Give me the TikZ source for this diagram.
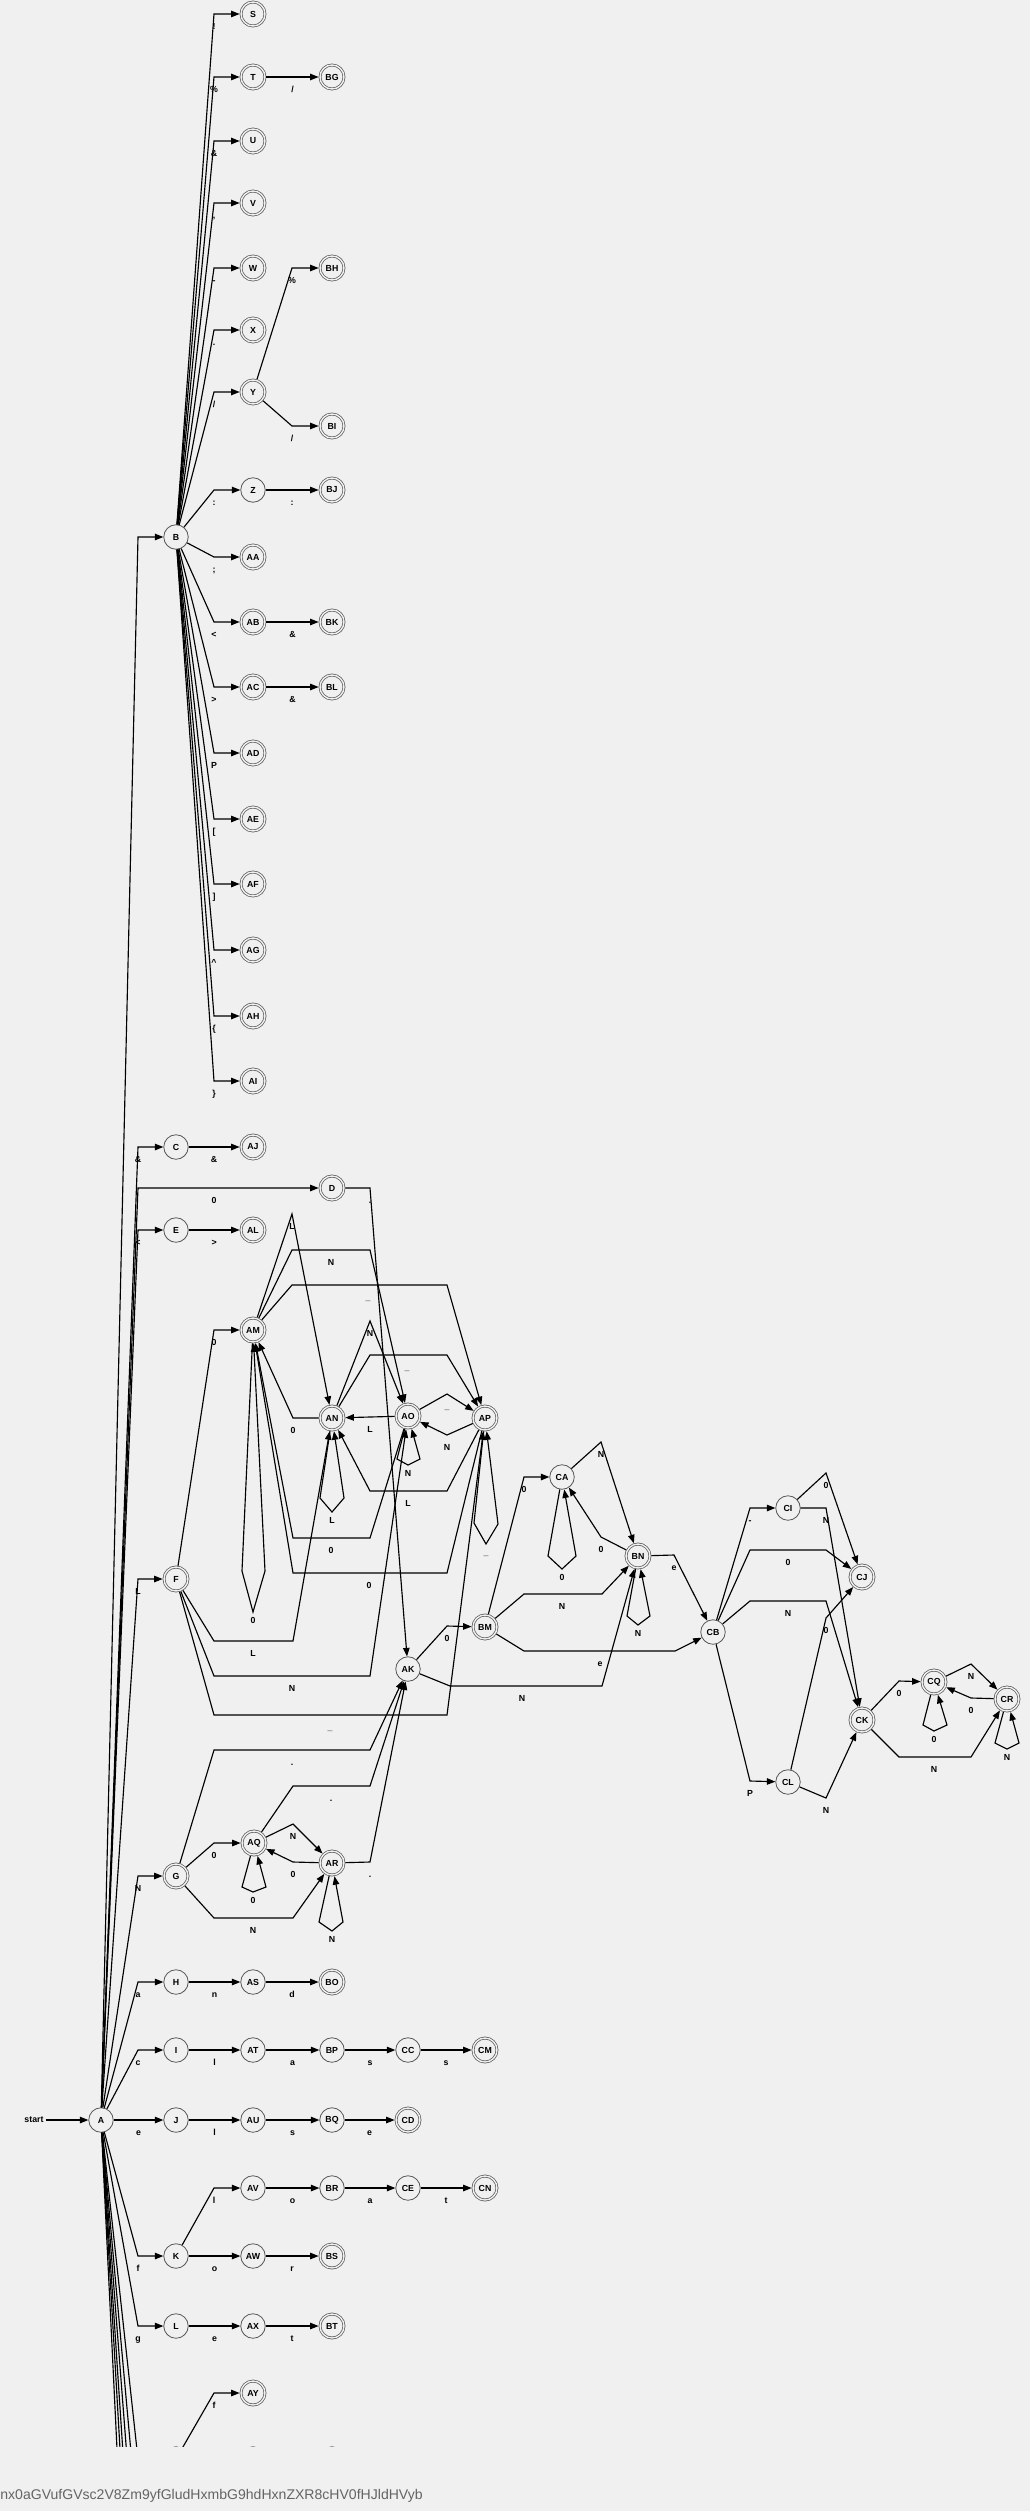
\documentclass[tikz,border=0pt]{standalone}
\usepackage{fontspec}
\setmainfont{Liberation Sans}
\usetikzlibrary{arrows.meta}

\definecolor{bgc}{RGB}{240,240,240}
\definecolor{ring}{RGB}{85,85,85}
\definecolor{hashgray}{RGB}{100,100,100}
\newcommand{\tinyfont}{\fontsize{5}{6}\selectfont\bfseries}

\tikzset{
  st/.style={circle, draw=ring, line width=0.45pt, fill=bgc, minimum size=0.49cm, inner sep=0pt, font=\tinyfont},
  acc/.style={st, minimum size=0.48cm, line width=0.4pt, double=bgc, double distance=0.8pt, outer sep=0.8pt},
  lbl/.style={font=\tinyfont, inner sep=0pt, text height=3.6pt, text depth=0pt, yshift=-0.25cm},
  lp/.style={font=\tinyfont, inner sep=0pt, text height=3.6pt, text depth=0pt, yshift=-0.16cm},
  tr/.style={-{Triangle[length=0.17cm,width=0.13cm]}, line width=0.65pt},
}

\begin{document}
\begin{tikzpicture}[x=0.02cm, y=-0.02cm]
  \useasboundingbox (0,0) rectangle (1030,2511);
  \fill[bgc] (0,0) rectangle (1030,2511);

  \begin{scope}
    \clip (0,0) rectangle (1030,2446);

    % punctuation fan
    \node[st] (B) at (176,537) {B};
    \foreach \n/\y in {S/14,T/77,U/141,V/203,W/268,X/330,Y/392,AA/557,AB/622,AC/687,AD/753,AE/819,AF/884,AG/950,AH/1016,AI/1081}
      \node[acc] (\n) at (253,\y) {\n};
    \node[st] (Z) at (253,490) {Z};
    \foreach \n/\y in {BG/77,BH/268,BI/426,BJ/490,BK/622,BL/687}
      \node[acc] (\n) at (332,\y) {\n};

    \foreach \n/\y/\lab in {S/14/!, T/77/\%, U/141/\&, V/203/{,}, W/268/-, X/330/., Y/392/{/}, Z/490/:, AA/557/;, AB/622/<, AC/687/>, AD/753/P, AE/819/[, AF/884/], AG/950/\textasciicircum, AH/1016/\{, AI/1081/\}}
      \draw[tr] (B) -- (214,\y) node[lbl] {\lab} -- (\n);

    \draw[tr] (T) -- (BG) node[lbl,midway] {/};
    \draw[tr] (Y) -- (292,268) node[lbl] {\%} -- (BH);
    \draw[tr] (Y) -- (292,426) node[lbl] {/} -- (BI);
    \draw[tr] (Z) -- (BJ) node[lbl,midway] {:};
    \draw[tr] (AB) -- (BK) node[lbl,midway] {\&};
    \draw[tr] (AC) -- (BL) node[lbl,midway] {\&};

    % numbers and identifiers
    \node[st] (C) at (176,1147) {C};
    \node[acc] (AJ) at (253,1147) {AJ};
    \node[acc] (D) at (332,1188) {D};
    \node[st] (E) at (176,1230) {E};
    \node[acc] (AL) at (253,1230) {AL};
    \node[acc] (AM) at (253,1330) {AM};
    \node[acc] (AN) at (332,1418) {AN};
    \node[acc] (AO) at (408,1416) {AO};
    \node[acc] (AP) at (485,1418) {AP};
    \node[acc] (F) at (176,1579) {F};
    \node[st] (AK) at (408,1669) {AK};
    \node[acc] (BM) at (485,1627) {BM};
    \node[st] (CA) at (562,1477) {CA};
    \node[acc] (BN) at (638,1556) {BN};
    \node[st] (CB) at (713,1632) {CB};
    \node[st] (CI) at (788,1508) {CI};
    \node[st] (CL) at (788,1782) {CL};
    \node[acc] (CJ) at (862,1577) {CJ};
    \node[acc] (CK) at (862,1720) {CK};
    \node[acc] (CQ) at (934,1682) {CQ};
    \node[acc] (CR) at (1007,1699) {CR};
    \node[acc] (G) at (176,1876) {G};
    \node[acc] (AQ) at (254,1843) {AQ};
    \node[acc] (AR) at (332,1863) {AR};

    \draw[tr] (C) -- (AJ) node[lbl,midway] {\&};
    \draw[tr] (E) -- (AL) node[lbl,midway] {>};
    \draw[tr] (D) -- (370,1188) node[lbl] {.} -- (AK);

    \draw[tr] (F) -- (214,1330) node[lbl] {0} -- (AM);
    \draw[tr] (F) -- (214,1641) -- (253,1641) node[lbl] {L} -- (293,1641) -- (AN);
    \draw[tr] (F) -- (214,1676) -- (292,1676) node[lbl] {N} -- (370,1676) -- (AO);
    \draw[tr] (F) -- (214,1715) -- (330,1715) node[lbl] {\_} -- (447,1715) -- (AP);

    \draw[tr] (AM) -- (292,1214) node[lbl] {L} -- (AN);
    \draw[tr] (AM) -- (292,1250) -- (331,1250) node[lbl] {N} -- (370,1250) -- (AO);
    \draw[tr] (AM) -- (292,1285) -- (368,1285) node[lbl] {\_} -- (447,1285) -- (AP);
    \draw[tr] (AM) -- (242,1571) -- (253,1612) node[lp] {0} -- (265,1571) -- (AM);

    \draw[tr] (AN) -- (293,1418) node[lbl] {0} -- (AM);
    \draw[tr] (AN) -- (370,1321) node[lbl] {N} -- (AO);
    \draw[tr] (AN) -- (370,1355) -- (407,1355) node[lbl] {\_} -- (447,1355) -- (AP);
    \draw[tr] (AN) -- (320,1498) -- (332,1512) node[lp] {L} -- (344,1498) -- (AN);

    \draw[tr] (AO) -- (AN) node[lbl,midway] {L};
    \draw[tr] (AO) -- (447,1394) node[lbl] {\_} -- (AP);
    \draw[tr] (AO) -- (370,1538) -- (331,1538) node[lbl] {0} -- (293,1538) -- (AM);
    \draw[tr] (AO) -- (397,1459) -- (408,1465) node[lp] {N} -- (420,1459) -- (AO);

    \draw[tr] (AP) -- (447,1435) node[lbl] {N} -- (AO);
    \draw[tr] (AP) -- (447,1491) -- (408,1491) node[lbl] {L} -- (370,1491) -- (AN);
    \draw[tr] (AP) -- (447,1573) -- (369,1573) node[lbl] {0} -- (293,1573) -- (AM);
    \draw[tr] (AP) -- (474,1523) -- (486,1544) node[lp] {\_} -- (498,1524) -- (AP);

    \draw[tr] (G) -- (214,1843) node[lbl] {0} -- (AQ);
    \draw[tr] (G) -- (214,1918) -- (253,1918) node[lbl] {N} -- (293,1918) -- (AR);
    \draw[tr] (G) -- (214,1750) -- (292,1750) node[lbl] {.} -- (370,1750) -- (AK);
    \draw[tr] (AQ) -- (242,1887) -- (253,1892) node[lp] {0} -- (266,1887) -- (AQ);
    \draw[tr] (AQ) -- (293,1824) node[lbl] {N} -- (AR);
    \draw[tr] (AR) -- (293,1862) node[lbl] {0} -- (AQ);
    \draw[tr] (AR) -- (319,1922) -- (332,1931) node[lp] {N} -- (343,1922) -- (AR);
    \draw[tr] (AQ) -- (293,1786) -- (331,1786) node[lbl] {.} -- (370,1786) -- (AK);
    \draw[tr] (AR) -- (370,1862) node[lbl] {.} -- (AK);

    \draw[tr] (AK) -- (447,1626) node[lbl] {0} -- (BM);
    \draw[tr] (AK) -- (450,1686) -- (522,1686) node[lbl] {N} -- (602,1686) -- (BN);

    \draw[tr] (BM) -- (524,1477) node[lbl] {0} -- (CA);
    \draw[tr] (BM) -- (524,1594) -- (562,1594) node[lbl] {N} -- (602,1594) -- (BN);
    \draw[tr] (BM) -- (524,1651) -- (600,1651) node[lbl] {e} -- (675,1651) -- (CB);

    \draw[tr] (CA) -- (548,1556) -- (562,1569) node[lp] {0} -- (576,1556) -- (CA);
    \draw[tr] (CA) -- (601,1442) node[lbl] {N} -- (BN);
    \draw[tr] (BN) -- (601,1537) node[lbl] {0} -- (CA);
    \draw[tr] (BN) -- (627,1616) -- (638,1625) node[lp] {N} -- (650,1616) -- (BN);
    \draw[tr] (BN) -- (674,1555) node[lbl] {e} -- (CB);

    \draw[tr] (CB) -- (750,1508) node[lbl] {-} -- (CI);
    \draw[tr] (CB) -- (750,1550) -- (788,1550) node[lbl] {0} -- (826,1550) -- (CJ);
    \draw[tr] (CB) -- (750,1601) -- (788,1601) node[lbl] {N} -- (826,1601) -- (CK);
    \draw[tr] (CB) -- (750,1781) node[lbl] {P} -- (CL);
    \draw[tr] (CI) -- (826,1473) node[lbl] {0} -- (CJ);
    \draw[tr] (CI) -- (826,1508) node[lbl] {N} -- (CK);
    \draw[tr] (CL) -- (826,1618) node[lbl] {0} -- (CJ);
    \draw[tr] (CL) -- (826,1798) node[lbl] {N} -- (CK);

    \draw[tr] (CK) -- (899,1681) node[lbl] {0} -- (CQ);
    \draw[tr] (CK) -- (899,1757) -- (934,1757) node[lbl] {N} -- (971,1757) -- (CR);
    \draw[tr] (CQ) -- (923,1725) -- (934,1731) node[lp] {0} -- (947,1725) -- (CQ);
    \draw[tr] (CQ) -- (971,1664) node[lbl] {N} -- (CR);
    \draw[tr] (CR) -- (971,1698) node[lbl] {0} -- (CQ);
    \draw[tr] (CR) -- (995,1743) -- (1007,1749) node[lp] {N} -- (1019,1743) -- (CR);

    % keywords
    \node[st] (A) at (101,2120) {A};
    \node[font=\tinyfont, inner sep=1pt] (start) at (34,2120) {start};
    \foreach \n/\x in {H/176,AS/253} \node[st] (\n) at (\x,1982) {\n};
    \node[acc] (BO) at (332,1982) {BO};
    \foreach \n/\x in {I/176,AT/253,BP/332,CC/408} \node[st] (\n) at (\x,2050) {\n};
    \node[acc] (CM) at (485,2050) {CM};
    \foreach \n/\x in {J/176,AU/253,BQ/332} \node[st] (\n) at (\x,2120) {\n};
    \node[acc] (CD) at (408,2120) {CD};
    \foreach \n/\x in {AV/253,BR/332,CE/408} \node[st] (\n) at (\x,2188) {\n};
    \node[acc] (CN) at (485,2188) {CN};
    \foreach \n/\x in {K/176,AW/253} \node[st] (\n) at (\x,2256) {\n};
    \node[acc] (BS) at (332,2256) {BS};
    \foreach \n/\x in {L/176,AX/253} \node[st] (\n) at (\x,2326) {\n};
    \node[acc] (BT) at (332,2326) {BT};
    \node[acc] (AY) at (253,2393) {AY};
    \node[st] (M) at (176,2459) {};
    \node[st] (AZ) at (253,2459) {};
    \node[st] (BU) at (332,2459) {};

    \draw[tr] (start) -- (A);
    \draw[tr] (A) -- (138,537) -- (B);
    \draw[tr] (A) -- (138,1188) -- (214,1188) node[lbl] {0} -- (D);
    \foreach \n/\y/\lab in {C/1147/\&, E/1230/<, F/1579/L, G/1876/N, H/1982/a, I/2050/c, K/2256/f, L/2326/g}
      \draw[tr] (A) -- (138,\y) node[lbl] {\lab} -- (\n);
    \draw[tr] (A) -- (J) node[lbl,midway] {e};
    \draw[tr] (A) -- (138,2459) -- (M);
    \foreach \i/\y in {1/2530,2/2600,3/2680,4/2760,5/2880} {
      \coordinate (low\i) at (138,\y);
      \draw[line width=0.65pt] (A) -- (low\i);
    }

    \foreach \a/\b/\lab in {H/AS/n, AS/BO/d, I/AT/l, AT/BP/a, BP/CC/s, CC/CM/s, J/AU/l, AU/BQ/s, BQ/CD/e, AV/BR/o, BR/CE/a, CE/CN/t, K/AW/o, AW/BS/r, L/AX/e, AX/BT/t}
      \draw[tr] (\a) -- (\b) node[lbl,midway] {\lab};
    \draw[tr] (K) -- (214,2188) node[lbl] {l} -- (AV);
    \draw[tr] (M) -- (214,2393) node[lbl] {f} -- (AY);
  \end{scope}

  \begin{scope}
    \clip (0,2446) rectangle (422,2511);
    \node[anchor=base west, inner sep=0pt, text=hashgray, font=\fontsize{8}{9}\selectfont] (hash) at (0,2499) {nx0aGVufGVsc2V8Zm9yfGludHxmbG9hdHxnZXR8cHV0fHJldHVybnw};
  \end{scope}
\end{tikzpicture}
\end{document}
